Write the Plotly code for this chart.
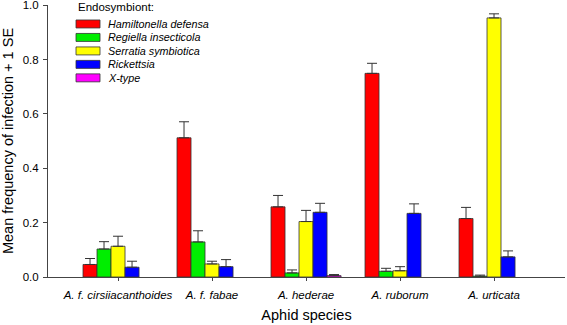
import plotly.graph_objects as go

species = ["A. f. cirsiiacanthoides", "A. f. fabae", "A. hederae", "A. ruborum", "A. urticata"]
symbionts = ["Hamiltonella defensa", "Regiella insecticola", "Serratia symbiotica", "Rickettsia", "X-type"]
colors = ["#FF0000", "#00EE00", "#FFFF00", "#0000FF", "#FF00FF"]

means = {
    "Hamiltonella defensa": [0.046, 0.512, 0.258, 0.749, 0.215],
    "Regiella insecticola": [0.103, 0.129, 0.015, 0.021, 0.003],
    "Serratia symbiotica": [0.113, 0.048, 0.204, 0.023, 0.953],
    "Rickettsia": [0.036, 0.038, 0.238, 0.234, 0.074],
    "X-type": [None, None, 0.005, None, None],
}
se = {
    "Hamiltonella defensa": [0.022, 0.059, 0.042, 0.037, 0.041],
    "Regiella insecticola": [0.027, 0.041, 0.011, 0.011, 0.004],
    "Serratia symbiotica": [0.037, 0.010, 0.041, 0.015, 0.015],
    "Rickettsia": [0.022, 0.026, 0.033, 0.035, 0.022],
    "X-type": [0.0, 0.0, 0.004, 0.0, 0.0],
}
y_ticks = [0.0, 0.2, 0.4, 0.6, 0.8, 1.0]

FONT = "Arial, Liberation Sans, sans-serif"
L, R, T, B = 48, 565, 5, 277.5
W, H = R - L, B - T

fig = go.Figure()
for name, col in zip(symbionts, colors):
    fig.add_trace(go.Bar(
        x=list(range(len(species))), y=means[name], name=name,
        marker=dict(color=col, line=dict(color="#333333", width=0.8)),
        error_y=dict(type="data", symmetric=False, array=se[name],
                     arrayminus=[0] * len(species), color="#333333",
                     thickness=1, width=5, visible=True),
        showlegend=False,
    ))

# custom legend (wide rectangular swatches like the reference)
fig.add_annotation(text="Endosymbiont:", xref="paper", yref="paper",
                   x=(76 - L) / W, y=1.0 - (7 - T) / H,
                   xanchor="left", yanchor="middle", showarrow=False,
                   font=dict(family=FONT, size=11.5, color="black"))
for i, (name, col) in enumerate(zip(symbionts, colors)):
    yc = 24 + i * 13.5
    fig.add_shape(type="rect", xref="paper", yref="paper",
                  x0=(76 - L) / W, x1=(100 - L) / W,
                  y0=1 - (yc + 4 - T) / H, y1=1 - (yc - 4 - T) / H,
                  fillcolor=col, line=dict(color="#333333", width=0.8))
    fig.add_annotation(text="<i>" + name + "</i>", xref="paper", yref="paper",
                       x=(106 - L) / W, y=1 - (yc - T) / H,
                       xanchor="left", yanchor="middle", showarrow=False,
                       font=dict(family=FONT, size=10.8, color="black"))

fig.update_layout(
    width=567, height=325,
    margin=dict(l=L, r=567 - R, t=T, b=325 - B, autoexpand=False),
    plot_bgcolor="white", paper_bgcolor="white",
    barmode="group", bargap=0.255, bargroupgap=0,
    font=dict(family=FONT, color="black"),
    xaxis=dict(
        tickmode="array", tickvals=list(range(len(species))),
        ticktext=["<i>" + s + "</i>" for s in species],
        range=[-0.745, 4.755], showline=True, linecolor="#444444", linewidth=1,
        ticks="outside", ticklen=3, tickcolor="#444444", ticklabelstandoff=4,
        tickfont=dict(size=11.5, family=FONT),
        title=dict(text="Aphid species", font=dict(size=14.5, family=FONT), standoff=10),
        showgrid=False, zeroline=False, automargin=False,
    ),
    yaxis=dict(
        range=[0, 1.0005], tickvals=y_ticks, tickformat=".1f",
        showline=True, linecolor="#444444", linewidth=1,
        ticks="outside", ticklen=4, tickcolor="#444444", ticklabelstandoff=2,
        tickfont=dict(size=11.5, family=FONT), ticklabeloverflow="allow",
        title=dict(text="Mean frequency of infection + 1 SE", font=dict(size=14.5, family=FONT), standoff=8),
        showgrid=False, zeroline=False, automargin=False,
    ),
)

fig.write_html("out.html", config={"displayModeBar": False},
               post_script="document.body.style.margin='0';document.body.style.overflow='hidden';")
